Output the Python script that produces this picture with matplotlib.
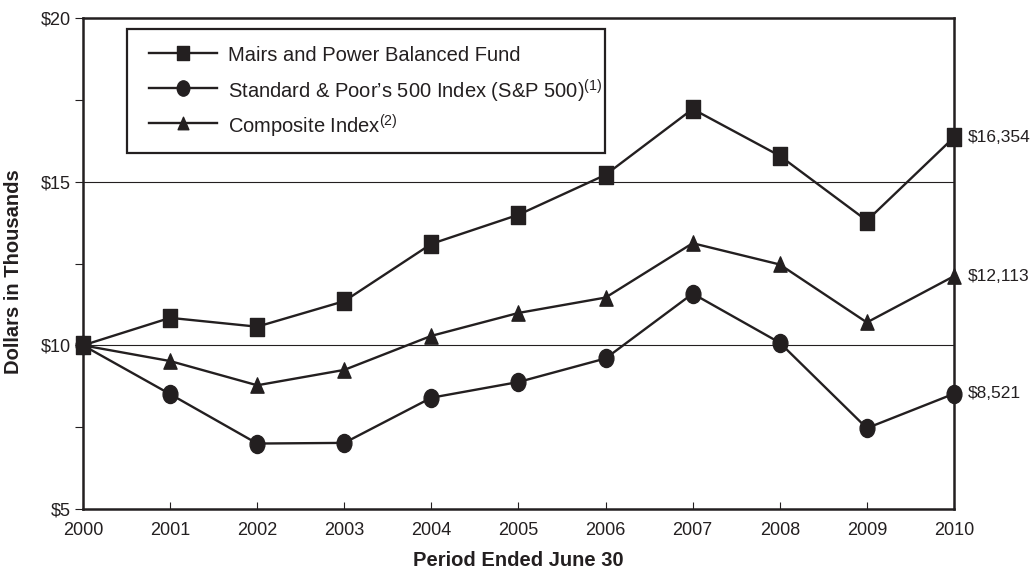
import matplotlib
matplotlib.use("Agg")
import matplotlib.pyplot as plt
from matplotlib.patches import Rectangle
from matplotlib.path import Path
from matplotlib.transforms import Affine2D
from matplotlib.ticker import FixedLocator, FuncFormatter

plt.rcParams['font.family'] = ['Liberation Sans', 'DejaVu Sans']
plt.rcParams['mathtext.fontset'] = 'custom'
plt.rcParams['mathtext.rm'] = 'Liberation Sans'

years = [2000, 2001, 2002, 2003, 2004, 2005, 2006, 2007, 2008, 2009, 2010]
fund = [10.0, 10.84, 10.57, 11.35, 13.10, 13.99, 15.21, 17.22, 15.79, 13.81, 16.354]
sp500 = [10.0, 8.51, 7.00, 7.02, 8.40, 8.88, 9.60, 11.58, 10.08, 7.47, 8.521]
composite = [10.0, 9.52, 8.78, 9.25, 10.29, 10.99, 11.46, 13.12, 12.47, 10.70, 12.113]

fund_label = "Mairs and Power Balanced Fund"
sp_label = "Standard & Poor\u2019s 500 Index (S&P 500)" + r"$^{\mathrm{(1)}}$"
comp_label = "Composite Index" + r"$^{\mathrm{(2)}}$"
end_labels = ["\\$16,354", "\\$8,521", "\\$12,113"]

INK = '#231f20'

# slightly tall marker shapes
sq = Path([(-0.4, -0.5), (0.4, -0.5), (0.4, 0.5), (-0.4, 0.5), (-0.4, -0.5)],
          [Path.MOVETO, Path.LINETO, Path.LINETO, Path.LINETO, Path.CLOSEPOLY])
ell = Affine2D().scale(0.41, 0.5).transform_path(Path.unit_circle())
tri = Path([(-0.43, -0.5), (0.43, -0.5), (0.0, 0.5), (-0.43, -0.5)],
           [Path.MOVETO, Path.LINETO, Path.LINETO, Path.CLOSEPOLY])

fig = plt.figure(figsize=(10.35, 5.7), dpi=100)
ax = fig.add_axes([0.0802, 0.107, 0.8415, 0.8614])

ax.set_xlim(2000, 2010)
ax.set_ylim(5, 20)

# reference lines
for yv in (10, 15):
    ax.axhline(yv, color=INK, lw=0.8, zorder=1)

lw = 1.7
series = [
    (fund, sq, 13, fund_label, 10.5),
    (sp500, ell, 13, sp_label, 11),
    (composite, tri, 11, comp_label, 9),
]
for vals, mk, ms, _, _ in series:
    ax.plot(years, vals, color=INK, lw=lw, marker=mk, markersize=ms,
            clip_on=False, zorder=4)

for val, txt in zip([fund[-1], sp500[-1], composite[-1]], end_labels):
    ax.annotate(txt, xy=(years[-1], val), xytext=(10, 0),
                textcoords='offset points', va='center', ha='left',
                fontsize=12.5, color=INK, annotation_clip=False)

# key box
ax.add_patch(Rectangle((0.0505, 0.7251), 0.5488, 0.2525, transform=ax.transAxes,
                       facecolor='white', edgecolor=INK, lw=1.6, zorder=5))
row_y = [0.9287, 0.8574, 0.7862]
for (vals, mk, ms, label, lms), yy in zip(series, row_y):
    ax.plot([0.0758, 0.1538], [yy, yy], color=INK, lw=lw,
            transform=ax.transAxes, zorder=6, clip_on=False)
    ax.plot([0.1148], [yy], color=INK, marker=mk, markersize=lms,
            transform=ax.transAxes, zorder=6, clip_on=False)
    ax.text(0.1665, yy, label, transform=ax.transAxes, fontsize=14.5,
            color=INK, va='center_baseline', ha='left', zorder=6)

for s in ax.spines.values():
    s.set_linewidth(1.8)
    s.set_color(INK)

ax.set_xticks(years)
ax.set_xticklabels([str(y) for y in years])
ax.tick_params(axis='x', direction='in', length=5, width=0.8, pad=9,
               labelsize=13, colors=INK)
ax.yaxis.set_major_locator(FixedLocator([5, 10, 15, 20]))
ax.yaxis.set_minor_locator(FixedLocator([7.5, 12.5, 17.5]))
ax.yaxis.set_major_formatter(FuncFormatter(lambda v, p: "\\$%d" % v))
ax.tick_params(axis='y', which='both', direction='out', length=6, width=0.8,
               pad=3, labelsize=13, colors=INK)

ax.set_xlabel("Period Ended June 30", fontsize=14.5, fontweight='bold',
              labelpad=9, color=INK)
ax.set_ylabel("Dollars in Thousands", fontsize=14.5, fontweight='bold',
              color=INK)
ax.yaxis.set_label_coords(-0.069, 0.483)

fig.savefig("out.png", dpi=100)
